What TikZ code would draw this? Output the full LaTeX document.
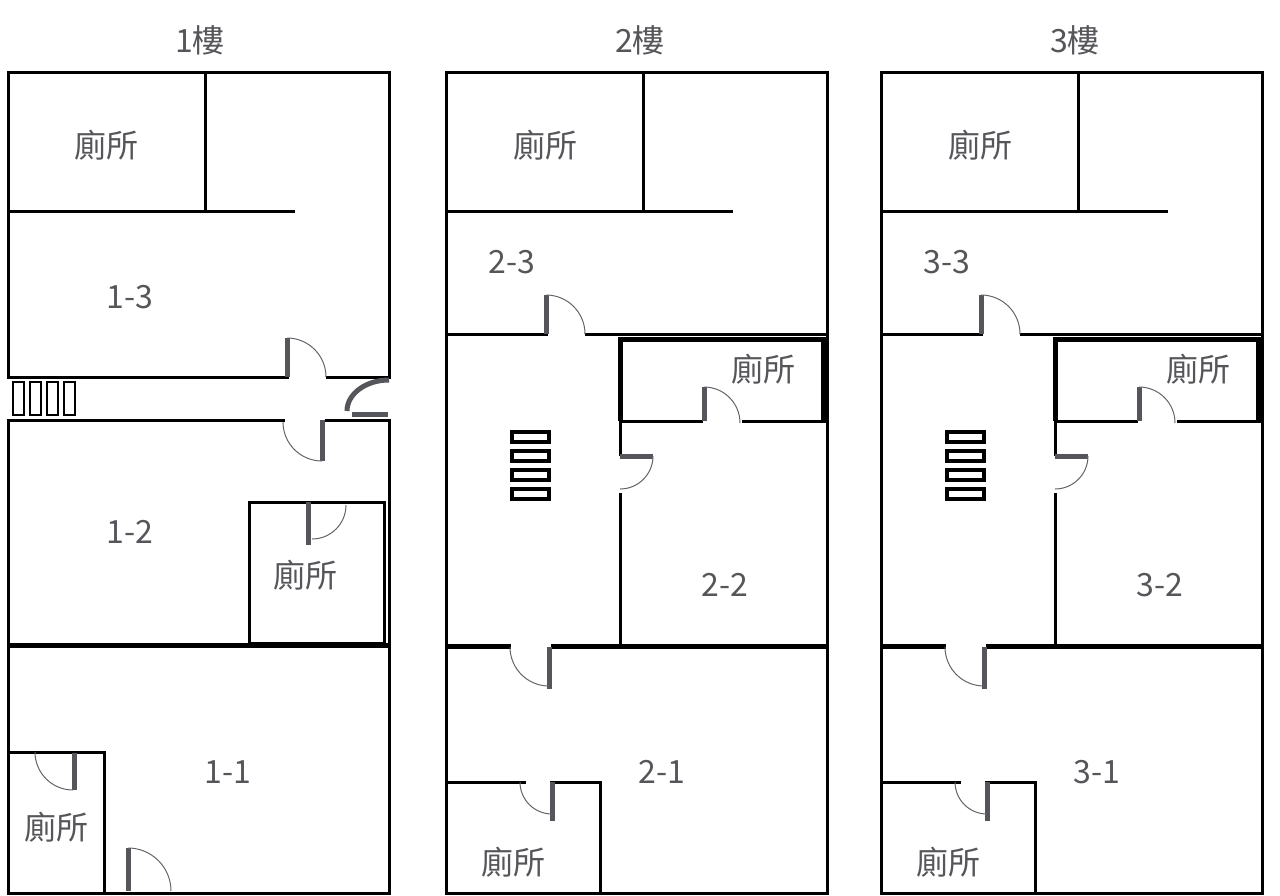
\documentclass[tikz,border=0pt]{standalone}
\usepackage{fontspec}
\setmainfont{Noto Sans CJK TC}
\begin{document}
\begin{tikzpicture}[x=1pt,y=-1pt,
  wall/.style={line width=3pt,black},
  thickwall/.style={line width=5pt,black},
  post/.style={line width=5pt,color={rgb,255:red,85;green,86;blue,92}},
  swing/.style={line width=1pt,color={rgb,255:red,100;green,100;blue,105}},
  stair/.style={line width=3.2pt,black},
  stairone/.style={line width=2.4pt,black},
  lbl/.style={font=\fontsize{32}{34}\selectfont,text={rgb,255:red,85;green,85;blue,90},inner sep=0pt}]
\useasboundingbox (0,0) rectangle (1280,896);
% ---------- Floor 1 ----------
\node[lbl] (t1) at (200,40) {1樓};
\draw[wall] (289,377) -- (8,377) -- (8,73) -- (389,73) -- (389,379);
\draw[wall] (326,377) -- (389,377);
\draw[wall] (205,73) -- (205,212);
\draw[wall] (8,212) -- (295,212);
\draw[post] (287,338) -- (287,377);
\draw[swing] (287,338) arc[start angle=-90,end angle=0,radius=39];
\foreach \xa in {13,30,47,64}
  \draw[stairone] (\xa,382) rectangle ++(11,33);
\draw[post] (389,380) arc[start angle=-90,end angle=-180,x radius=42,y radius=31];
\draw[post] (352,414) -- (388,414);
\draw[wall] (285,420) -- (8,420) -- (8,893) -- (389,893) -- (389,420) -- (325,420);
\draw[post] (322,420) -- (322,461);
\draw[swing] (322,461) arc[start angle=90,end angle=180,radius=39];
\draw[wall] (249,643) rectangle (384,502);
\draw[post] (308,502) -- (308,545);
\draw[swing] (346,505) arc[start angle=0,end angle=90,radius=34];
\draw[thickwall] (8,645) -- (389,645);
\draw[wall] (8,752) -- (104,752) -- (104,893);
\draw[post] (74,753) -- (74,790);
\draw[swing] (35,752) arc[start angle=180,end angle=90,radius=38];
\draw[post] (128,848) -- (128,891);
\draw[swing] (128,848) arc[start angle=-90,end angle=0,radius=43];
\node[lbl] (a1) at (106,145) {廁所};
\node[lbl] (r13) at (130,297) {1-3};
\node[lbl] (r12) at (130,532) {1-2};
\node[lbl] (a2) at (305,575) {廁所};
\node[lbl] (r11) at (228,772) {1-1};
\node[lbl] (a3) at (56,827) {廁所};
% ---------- Floors 2 and 3 ----------
\foreach \f/\dx in {2/0,3/435}{
\begin{scope}[xshift=\dx]
\node[lbl] (t\f) at (640,40) {\f 樓};
\draw[wall] (446,73) rectangle (827,893);
\draw[wall] (643,73) -- (643,212);
\draw[wall] (446,212) -- (733,212);
\draw[wall] (446,334) -- (548,334);
\draw[wall] (585,334) -- (827,334);
\draw[post] (546,295) -- (546,334);
\draw[swing] (546,295) arc[start angle=-90,end angle=0,radius=39];
\draw[thickwall] (620,421) -- (620,339) -- (823,339) -- (823,421);
\draw[wall] (620,421) -- (620,456);
\draw[wall] (620,421) -- (703,421);
\draw[wall] (742,421) -- (827,421);
\draw[post] (704,387) -- (704,421);
\draw[swing] (704,387) arc[start angle=-90,end angle=0,radius=36];
\draw[post] (620,456) -- (653,456);
\draw[swing] (653,456) arc[start angle=0,end angle=90,radius=33];
\draw[wall] (620,493) -- (620,645);
\foreach \ya in {432,451,470,489}
  \draw[stair] (512,\ya) rectangle ++(37,10);
\draw[thickwall] (446,646) -- (511,646);
\draw[thickwall] (551,646) -- (827,646);
\draw[post] (549,647) -- (549,689);
\draw[swing] (510,647) arc[start angle=180,end angle=90,radius=39];
\draw[wall] (446,782) -- (526,782);
\draw[wall] (550,782) -- (600,782) -- (600,893);
\draw[post] (552,782) -- (552,821);
\draw[swing] (520,782) arc[start angle=180,end angle=90,radius=32];
\node[lbl] (b\f) at (545,145) {廁所};
\node[lbl] (c\f) at (512,262) {\f-3};
\node[lbl] (d\f) at (763,369) {廁所};
\node[lbl] (e\f) at (725,585) {\f-2};
\node[lbl] (g\f) at (662,772) {\f-1};
\node[lbl] (h\f) at (513,862) {廁所};
\end{scope}}
\end{tikzpicture}
\end{document}
